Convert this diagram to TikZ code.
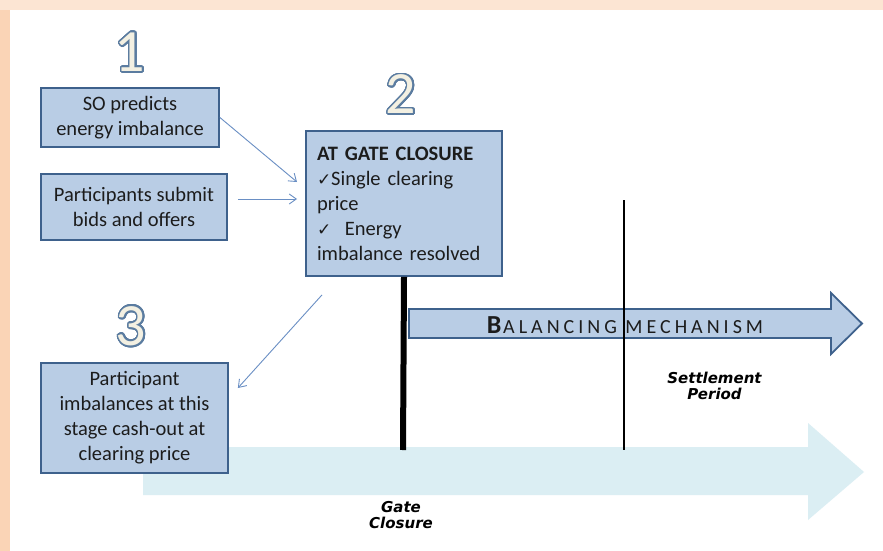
\documentclass[tikz,border=0pt]{standalone}
\usepackage{fontspec}
\setmainfont{Carlito}
\newfontfamily\symfont{DejaVu Sans}
\newfontfamily\tagfont{DejaVu Sans}
\newfontfamily\spacedfont[LetterSpace=20]{Carlito}
\usepackage{contour}
\contourlength{1.6pt}
\contournumber{32}
\usetikzlibrary{arrows.meta}
\definecolor{boxfill}{HTML}{B9CDE5}
\definecolor{boxline}{HTML}{3E618C}
\definecolor{linkblue}{HTML}{6A8FC4}
\definecolor{timefill}{HTML}{DBEEF3}
\definecolor{peach}{HTML}{FCE5D3}
\definecolor{peachdark}{HTML}{FAD4B6}
\definecolor{digitfill}{HTML}{F3F0E2}
\definecolor{digitline}{HTML}{5B7CA0}
\definecolor{inktext}{HTML}{1C1C1C}
\newcommand{\stepnum}[1]{\contour{digitline}{\color{digitfill}#1}}
\newcommand{\tick}{{\symfont\fontsize{17}{17}\selectfont ✓}}
\begin{document}
\begin{tikzpicture}[x=1pt,y=-1pt,
    stage/.style={draw=boxline, line width=1.8pt, fill=boxfill, text=inktext, align=center,
      font=\fontsize{20.5}{25}\selectfont, inner sep=0pt},
    link/.style={draw=linkblue, line width=0.9pt, -{Straight Barb[length=7pt,width=10pt]}},
    num/.style={font=\fontsize{60}{60}\selectfont, inner sep=0pt},
    tag/.style={font=\tagfont\bfseries\itshape\fontsize{15}{16}\selectfont, align=center, inner sep=0pt}]
  \useasboundingbox (0,0) rectangle (883,551);
  \fill[peach] (0,0) rectangle (883,551);
  \fill[peachdark] (0,10) rectangle (10,551);
  \fill[white] (10,10) rectangle (883,551);
  \fill[timefill] (143,447) -- (808,447) -- (808,423) -- (864,472) -- (808,520) -- (808,495) -- (143,495) -- cycle;
  \filldraw[fill=boxfill, draw=boxline, line width=1.8pt]
    (409,309) -- (831,309) -- (831,293) -- (862,323.5) -- (831,354) -- (831,338) -- (409,338) -- cycle;
  \node[num] (n1) at (130,53) {\stepnum{1}};
  \node[num] (n2) at (401,95) {\stepnum{2}};
  \node[num] (n3) at (131,327) {\stepnum{3}};
  \node[stage, minimum width=178, minimum height=59] (so) at (130,117.5) {SO predicts\\energy imbalance};
  \node[stage, minimum width=186, minimum height=66] (bids) at (134,207) {Participants submit\\bids and offers};
  \node[stage, align=left, text width=174pt, inner xsep=11pt, minimum height=145] (gc) at (404,203.5)
    {\textbf{AT GATE CLOSURE}\\\tick Single clearing\\price\\\tick\ \ Energy\\imbalance resolved};
  \node[stage, minimum width=187, minimum height=110] (cash) at (134.5,418)
    {Participant\\imbalances at this\\stage cash-out at\\clearing price};
  \coordinate (gcfoot) at (403,450);
  \coordinate (sptop) at (624,200);
  \coordinate (spfoot) at (624,450);
  \coordinate (in1) at (297,182);
  \coordinate (in2) at (297,199);
  \draw[line width=6pt] (gc.south) -- (gcfoot);
  \draw[line width=1.3pt] (sptop) -- (spfoot);
  \draw[link] (so.east) -- (in1);
  \draw[link] ([xshift=10pt,yshift=8pt]bids.east) -- (in2);
  \draw[link] ([xshift=-82pt,yshift=-18pt]gc.south) -- ([xshift=9pt,yshift=30pt]cash.east);
  \node[anchor=base, text=inktext, inner sep=0pt] (bm) at (625,333)
    {{\bfseries\fontsize{26}{26}\selectfont B}\,{\spacedfont\fontsize{20}{20}\selectfont ALANCING MECHANISM}};
  \node[tag] (sp) at (714.5,386) {Settlement\\Period};
  \node[tag] (gate) at (401,515.5) {Gate\\Closure};
\end{tikzpicture}
\end{document}
